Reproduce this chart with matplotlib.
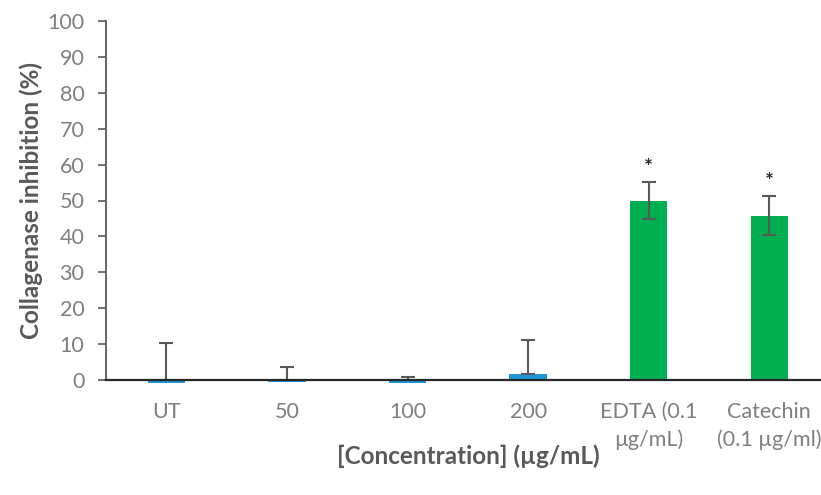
import matplotlib
matplotlib.use("Agg")
import matplotlib.pyplot as plt
import numpy as np

categories = ["UT", "50", "100", "200", "EDTA (0.1\nµg/mL)", "Catechin\n(0.1 µg/ml)"]
values = [-0.7, -0.5, -0.7, 1.8, 49.8, 45.7]
err_low = [0, 0, 0, 0, 5.0, 5.3]
err_high = [11.1, 4.2, 1.4, 9.3, 5.3, 5.6]
colors = ["#1E96D8", "#1E96D8", "#1E96D8", "#1E96D8", "#00B050", "#00B050"]
stars = ["", "", "", "", "*", "*"]

plt.rcParams['font.family'] = ['Lato', 'DejaVu Sans']

fig = plt.figure(figsize=(8.21, 4.95), dpi=100)
ax = fig.add_axes([106/821, 115/495, 723.6/821, 359/495])

x = np.arange(len(categories))
bars = ax.bar(x, values, width=0.31, color=colors, zorder=2)
for b in bars:
    b.set_clip_on(False)
ax.errorbar(x, values, yerr=[err_low, err_high], fmt='none', ecolor='#595959',
            elinewidth=1.5, capsize=5, capthick=1.5, zorder=3)
for xi, v, eh, s in zip(x, values, err_high, stars):
    if s:
        ax.text(xi, v + eh + 1.2, s, ha='center', va='bottom', fontsize=15,
                fontweight='bold', color='#262626')

ax.set_xlim(-0.5, 5.5)
ax.set_ylim(0, 100)
ax.set_yticks(np.arange(0, 101, 10))
ax.set_xticks(x)
ax.set_xticklabels(categories, color='#7F7F7F', fontsize=15.5, linespacing=1.45)
ax.tick_params(axis='x', length=0, pad=16)
ax.tick_params(axis='y', length=6, width=1.2, color='#595959', labelcolor='#7F7F7F',
               labelsize=15.5, pad=9.5)
for s in ['top', 'right']:
    ax.spines[s].set_visible(False)
ax.spines['left'].set_color('#595959')
ax.spines['left'].set_linewidth(1.3)
ax.spines['bottom'].set_color('#262626')
ax.spines['bottom'].set_linewidth(1.6)
ax.spines['bottom'].set_zorder(4)
ax.set_ylabel("Collagenase inhibition (%)", fontsize=17.5, fontweight='bold',
              color='#595959', labelpad=3)
fig.text(468/821, 1 - 456/495, "[Concentration] (µg/mL)", ha='center', va='center',
         fontsize=17.5, fontweight='bold', color='#595959')

fig.savefig("out.png", dpi=100)
